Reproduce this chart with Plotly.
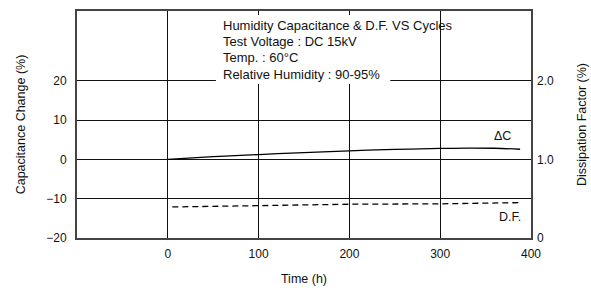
import plotly.graph_objects as go

# Data
time_dc = [0, 50, 100, 150, 200, 250, 300, 330, 360, 388]
cap_change = [0.0, 0.7, 1.25, 1.75, 2.2, 2.55, 2.8, 2.9, 2.85, 2.6]

time_df = [5, 100, 200, 300, 388]
diss_factor = [0.395, 0.41, 0.43, 0.435, 0.45]

x_ticks = [0, 100, 200, 300, 400]
y_left_ticks = [-20, -10, 0, 10, 20]
y_left_text = ["−20", "−10", "0", "10", "20"]
y_right_ticks = [0, 1.0, 2.0]
y_right_text = ["0", "1.0", "2.0"]

info_lines = [
    "Humidity Capacitance & D.F. VS Cycles",
    "Test Voltage : DC 15kV",
    "Temp. : 60°C",
    "Relative Humidity : 90-95%",
]

FONT = "Liberation Sans, Arial, sans-serif"
Y_TOP = 37.8
Y_BOT = -20

fig = go.Figure()
fig.add_trace(go.Scatter(x=time_dc, y=cap_change, mode="lines", line=dict(color="black", width=1.3, shape="spline"),
                         showlegend=False, yaxis="y", hoverinfo="skip"))
fig.add_trace(go.Scatter(x=time_df, y=diss_factor, mode="lines", line=dict(color="black", width=1.3, dash="6px,4px"),
                         showlegend=False, yaxis="y2", hoverinfo="skip"))

fig.update_layout(
    width=591, height=290,
    margin=dict(l=77, r=60, t=11, b=52, autoexpand=False),
    paper_bgcolor="white", plot_bgcolor="white",
    font=dict(family=FONT, size=12, color="#111"),
    xaxis=dict(range=[-100, 400], tickvals=x_ticks, ticktext=[str(v) for v in x_ticks],
               showgrid=True, gridcolor="#111", gridwidth=1, zeroline=False, automargin=False,
               showline=True, linecolor="#444", linewidth=2, mirror=True, ticks="",
               ticklabelstandoff=4,
               title=dict(text="Time (h)", font=dict(size=12.5), standoff=14)),
    yaxis=dict(range=[Y_BOT, Y_TOP], tickvals=y_left_ticks, ticktext=y_left_text,
               showgrid=True, gridcolor="#111", gridwidth=1, zeroline=False, automargin=False,
               showline=True, linecolor="#444", linewidth=2, mirror=True, ticks="",
               ticklabelstandoff=6,
               title=dict(text="Capacitance Change (%)", font=dict(size=12.5), standoff=18)),
    yaxis2=dict(range=[(Y_BOT + 20) / 20, (Y_TOP + 20) / 20], overlaying="y", side="right",
                tickvals=y_right_ticks, ticktext=y_right_text, showgrid=False, zeroline=False,
                showline=False, ticks="", automargin=False, ticklabelstandoff=5,
                title=dict(text="Dissipation Factor (%)", font=dict(size=12.5), standoff=24)),
)

# white info box covering the grid
fig.add_shape(type="rect", xref="x", yref="y", x0=53, x1=245, y0=19.2, y1=36.8,
              fillcolor="white", line=dict(width=0), layer="between")

for i, line in enumerate(info_lines):
    fig.add_annotation(x=59, y=34.2 - i * 4.15, xref="x", yref="y", text=line, showarrow=False,
                       xanchor="left", yanchor="middle", font=dict(size=13, family=FONT, color="#111"))

fig.add_annotation(x=380, y=5.9, xref="x", yref="y", text="ΔC", showarrow=False,
                   xanchor="right", yanchor="middle", font=dict(size=12.5, family=FONT, color="#111"))
fig.add_annotation(x=391, y=-14.7, xref="x", yref="y", text="D.F.", showarrow=False,
                   xanchor="right", yanchor="middle", font=dict(size=12.5, family=FONT, color="#111"))

fig.write_html("out.html", config={"displayModeBar": False, "staticPlot": True},
               post_script="document.body.style.margin='0';document.body.style.overflow='hidden';")
